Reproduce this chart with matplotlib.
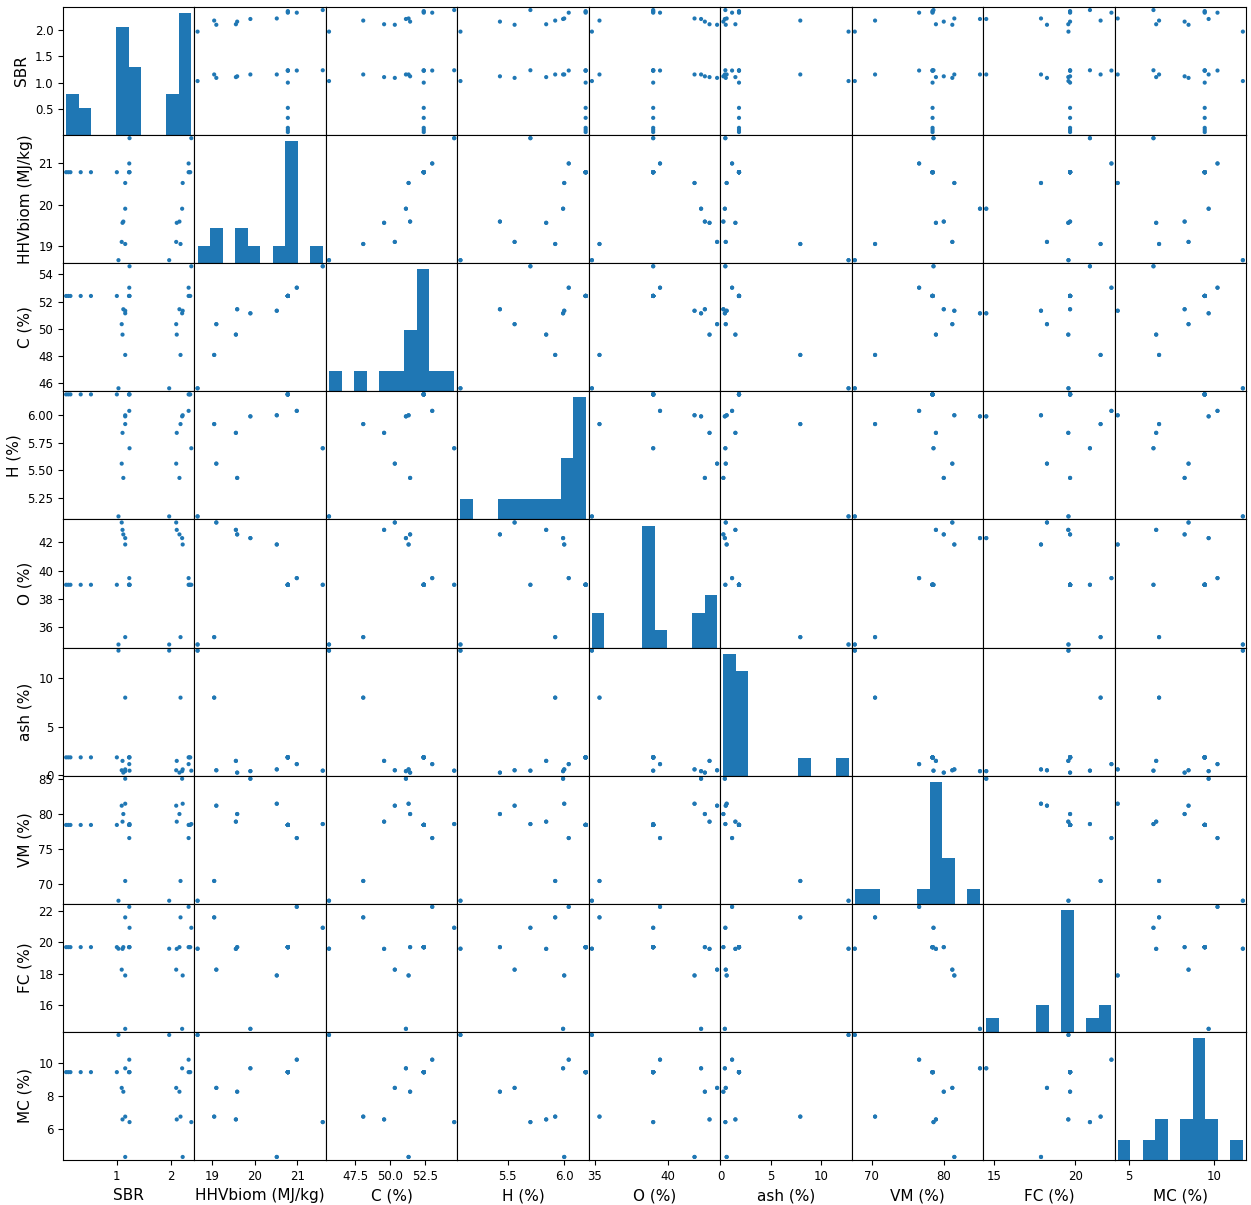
import matplotlib
matplotlib.use("Agg")
import matplotlib.pyplot as plt
import numpy as np
import pandas as pd
from matplotlib.ticker import MultipleLocator
from pandas.plotting import scatter_matrix

# one entry per gasification run; biomass properties repeat for runs on the same feedstock
sbr = [1.03, 1.97,
       1.155, 2.18,
       1.09, 2.10,
       1.105, 2.11,
       1.12, 2.16,
       1.155, 2.21,
       1.155, 2.22,
       0.06, 0.10, 0.14, 0.33, 0.52, 1.00, 1.225, 1.23, 1.235, 2.33, 2.345, 2.36,
       1.23, 2.33,
       1.235, 2.38]
hhv = [18.66] * 2 + [19.05] * 2 + [19.10] * 2 + [19.56] * 2 + [19.59] * 2 + \
      [19.90] * 2 + [20.52] * 2 + [20.78] * 12 + [20.99] * 2 + [21.60] * 2
carbon = [45.60] * 2 + [48.06] * 2 + [50.33] * 2 + [49.56] * 2 + [51.43] * 2 + \
         [51.13] * 2 + [51.32] * 2 + [52.41] * 12 + [53.02] * 2 + [54.60] * 2
hydrogen = [5.08] * 2 + [5.92] * 2 + [5.56] * 2 + [5.84] * 2 + [5.43] * 2 + \
           [5.99] * 2 + [6.00] * 2 + [6.19] * 12 + [6.04] * 2 + [5.70] * 2
oxygen = [34.80] * 2 + [35.32] * 2 + [43.40] * 2 + [42.88] * 2 + [42.56] * 2 + \
         [42.30] * 2 + [41.85] * 2 + [39.01] * 12 + [39.48] * 2 + [39.01] * 2
ash = [12.77] * 2 + [7.96] * 2 + [0.53] * 2 + [1.49] * 2 + [0.29] * 2 + \
      [0.44] * 2 + [0.62] * 2 + [1.85] * 12 + [1.16] * 2 + [0.49] * 2
vm = [67.64] * 2 + [70.46] * 2 + [81.21] * 2 + [78.93] * 2 + [80.02] * 2 + \
     [85.06] * 2 + [81.49] * 2 + [78.46] * 12 + [76.59] * 2 + [78.59] * 2
fc = [19.59] * 2 + [21.58] * 2 + [18.26] * 2 + [19.58] * 2 + [19.69] * 2 + \
     [14.50] * 2 + [17.89] * 2 + [19.69] * 12 + [22.25] * 2 + [20.92] * 2
mc = [11.68] * 2 + [6.76] * 2 + [8.49] * 2 + [6.59] * 2 + [8.26] * 2 + \
     [9.67] * 2 + [4.33] * 2 + [9.44] * 12 + [10.19] * 2 + [6.43] * 2

df = pd.DataFrame({
    'SBR': sbr,
    'HHVbiom (MJ/kg)': hhv,
    'C (%)': carbon,
    'H (%)': hydrogen,
    'O (%)': oxygen,
    'ash (%)': ash,
    'VM (%)': vm,
    'FC (%)': fc,
    'MC (%)': mc,
})

axes = scatter_matrix(df, figsize=(12.51, 12.05), alpha=1.0, diagonal='hist')
fig = plt.gcf()
fig.subplots_adjust(left=63 / 1251, right=1246 / 1251, bottom=1 - 1160 / 1205,
                    top=1 - 7 / 1205, wspace=0, hspace=0)

# SBR row: 0.5 steps, mapped onto the histogram's count axis like pandas does
for ax in axes[0, 1:]:
    ax.yaxis.set_major_locator(MultipleLocator(0.5))
lim1 = axes[0, 1].get_ylim()
locs = np.array([0.5, 1.0, 1.5, 2.0])
adj = (locs - lim1[0]) / (lim1[1] - lim1[0])
lim0 = axes[0, 0].get_ylim()
axes[0, 0].yaxis.set_ticks(adj * (lim0[1] - lim0[0]) + lim0[0])
axes[0, 0].yaxis.set_ticklabels(['0.5', '1.0', '1.5', '2.0'])

for ax in axes.flat:
    ax.xaxis.label.set_size(11)
    ax.yaxis.label.set_size(11)
    ax.tick_params(axis='x', labelsize=8.5, labelrotation=0)
    ax.tick_params(axis='y', labelsize=8.5, labelrotation=0)

fig.savefig('out.png', dpi=100)
